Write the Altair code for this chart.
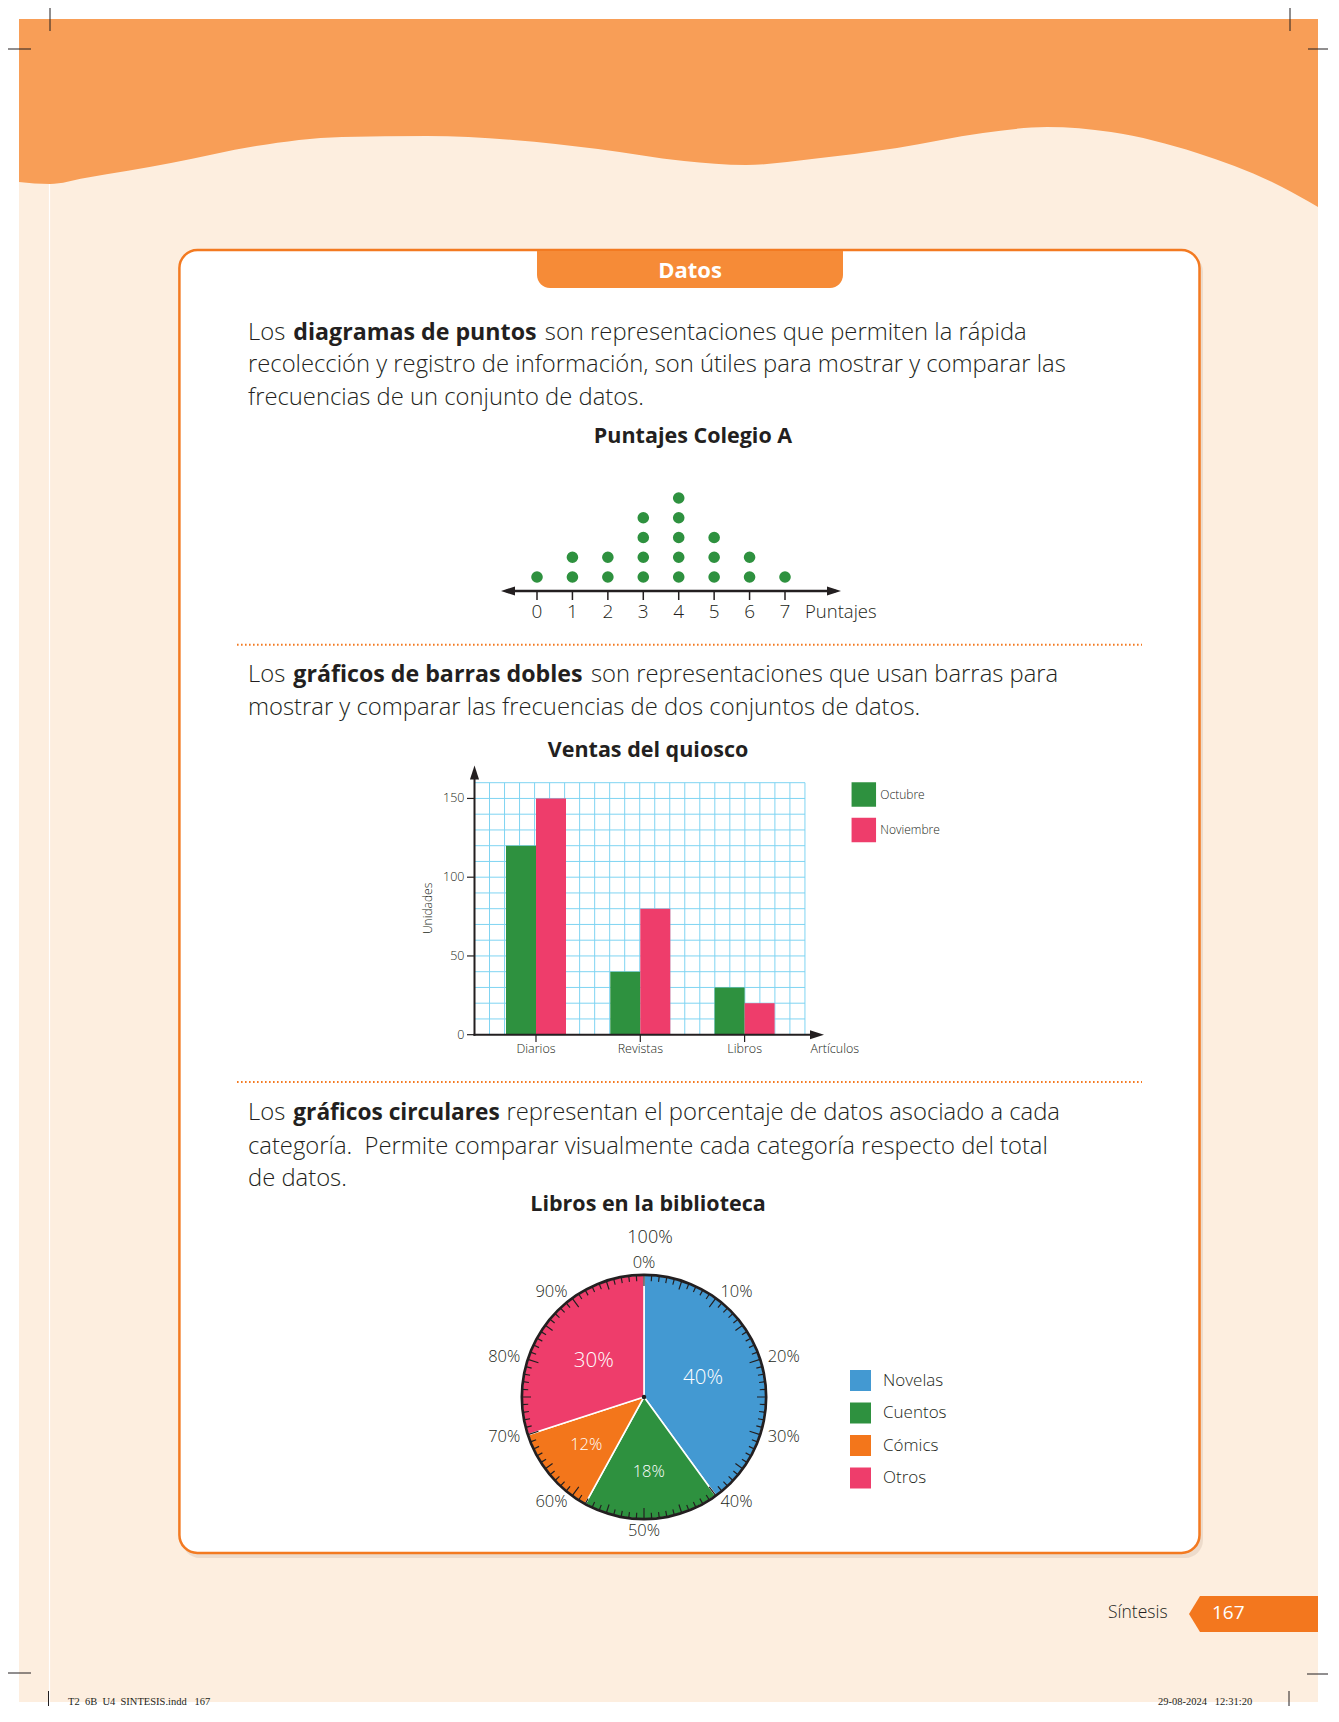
import math
import altair as alt
import pandas as pd

# ---------------- data ----------------
puntajes = [0, 1, 2, 3, 4, 5, 6, 7]
frecuencias = [1, 2, 2, 4, 5, 3, 2, 1]

articulos = ["Diarios", "Revistas", "Libros"]
meses = ["Octubre", "Noviembre"]
ventas_octubre = [120, 40, 30]
ventas_noviembre = [150, 80, 20]
marcas_unidades = [0, 50, 100, 150]
lineas_unidades = [10, 20, 30, 40, 50, 60, 70, 80, 90, 100, 110, 120, 130, 140, 150, 160]

categorias = ["Novelas", "Cuentos", "Cómics", "Otros"]
porcentajes = [40, 18, 12, 30]
marcas_circulo = [0, 10, 20, 30, 40, 50, 60, 70, 80, 90]
divisiones_circulo = list(range(100))

# ---------------- style ----------------
OFF = 8
W, H = 1320, 1698


def c(v):
    return v - OFF


FONT = "Open Sans"
LIGHT = 300
INK = "#231F20"
GREEN = "#2E913F"
PINK = "#EE3D6B"
BLUE = "#4399D2"
ORANGE_C = "#F3761B"
ORANGE_LINE = "#F37A21"
ORANGE_TAB = "#F68B37"
ORANGE_WAVE = "#F89E57"
CREAM = "#FDEEDF"
GRID = "#7FD4F2"

DUMMY = pd.DataFrame({"k": [0]})
PX = alt.Scale(domain=[0, 1400], range=[c(0), c(1400)], nice=False, zero=False)
PY = alt.Scale(domain=[0, 1800], range=[c(0), c(1800)], nice=False, zero=False)


def vrule(x, y1, y2, color=INK, width=1.0, **kw):
    return alt.Chart(DUMMY).mark_rule(color=color, strokeWidth=width, **kw).encode(
        x=alt.value(c(x)), y=alt.value(c(y1)), y2=alt.value(c(y2)))


def hrule(y, x1, x2, color=INK, width=1.0, **kw):
    return alt.Chart(DUMMY).mark_rule(color=color, strokeWidth=width, **kw).encode(
        x=alt.value(c(x1)), x2=alt.value(c(x2)), y=alt.value(c(y)))


def box(x1, y1, x2, y2, **kw):
    return alt.Chart(DUMMY).mark_rect(**kw).encode(
        x=alt.value(c(x1)), x2=alt.value(c(x2)), y=alt.value(c(y1)), y2=alt.value(c(y2)))


def label(text, x, y, size, weight=LIGHT, color=INK, align="left",
          baseline="alphabetic", font=FONT, angle=0):
    return alt.Chart(DUMMY).mark_text(
        text=text, font=font, fontSize=size, fontWeight=weight, color=color,
        align=align, baseline=baseline, angle=angle).encode(
        x=alt.value(c(x)), y=alt.value(c(y)))


LEFT = "M-1,0L1,-0.65L1,0.65Z"
RIGHT = "M1,0L-1,-0.65L-1,0.65Z"
UP = "M0,-1L-0.65,1L0.65,1Z"


def arrow(x, y, path):
    return alt.Chart(DUMMY).mark_point(shape=path, filled=True, size=196, color=INK,
                                       opacity=1, strokeWidth=0).encode(
        x=alt.value(c(x)), y=alt.value(c(y)))


# ---------------- page decoration ----------------
wave_df = pd.DataFrame({
    "wx": [19, 50, 85, 171, 256, 342, 427, 513, 598, 684, 746, 812, 897, 983, 1047, 1111, 1197, 1282, 1318],
    "wy": [182, 184, 178, 163, 146, 137, 136, 140, 149, 161, 165, 159, 148, 133, 127, 132, 153, 187, 207],
})
wave_df["top"] = 19
wave = alt.Chart(wave_df).mark_area(color=ORANGE_WAVE, interpolate="monotone", opacity=1).encode(
    x=alt.X("wx:Q", scale=PX, axis=None),
    y=alt.Y("wy:Q", scale=PY, axis=None),
    y2="top:Q")

grid_df = pd.DataFrame({"gx": [474.5 + 15.02 * k for k in range(23)]})
grid_v = alt.Chart(grid_df).mark_rule(color=GRID, strokeWidth=1).encode(
    x=alt.X("gx:Q", scale=PX, axis=None), y=alt.value(c(782.7)), y2=alt.value(c(1034.7)))

tab_df = pd.DataFrame({"tx": [1189, 1200, 1318], "t1": [1614, 1596, 1596], "t2": [1614, 1632, 1632]})
page_tab = alt.Chart(tab_df).mark_area(color="#F3771E", opacity=1).encode(
    x=alt.X("tx:Q", scale=PX, axis=None), y=alt.Y("t1:Q", scale=PY, axis=None), y2="t2:Q")

g0 = alt.layer(
    box(19, 19, 1318, 1702, color=CREAM),
    wave,
    vrule(49.5, 184, 1702, color="white", width=1.2),
    vrule(50, 8, 31), hrule(49, 8, 31),
    vrule(1290, 8, 31), hrule(49, 1308, 1330),
    hrule(1673, 8, 31), vrule(48.5, 1691, 1706),
    hrule(1674, 1307, 1330), vrule(1289, 1691, 1706),
    box(182, 254, 1203, 1558, color="#E6D3C2", cornerRadius=18, opacity=0.7),
    box(179.4, 250, 1199.5, 1553, fill="white", stroke=ORANGE_LINE, strokeWidth=2.5, cornerRadius=18),
    box(537, 251, 843, 288, color=ORANGE_TAB, cornerRadiusBottomLeft=13, cornerRadiusBottomRight=13),
    hrule(644.8, 237, 1142, color=ORANGE_LINE, width=2, strokeDash=[1.6, 2.4]),
    hrule(1082, 237, 1142, color=ORANGE_LINE, width=2, strokeDash=[1.6, 2.4]),
    grid_v,
    page_tab,
)

# ---------------- dot plot ----------------
dot_df = pd.DataFrame([{"puntaje": p, "nivel": k}
                       for p, f in zip(puntajes, frecuencias) for k in range(1, f + 1)])
xs_dot = alt.Scale(domain=[0, 7], range=[c(537), c(785)], nice=False, zero=False)
ys_dot = alt.Scale(domain=[1, 5], range=[c(577), c(498)], nice=False, zero=False)
punt_df = pd.DataFrame({"puntaje": puntajes})

g1 = alt.layer(
    alt.Chart(dot_df).mark_circle(size=135, color=GREEN, opacity=1).encode(
        x=alt.X("puntaje:Q", scale=xs_dot, axis=None),
        y=alt.Y("nivel:Q", scale=ys_dot, axis=None)),
    alt.Chart(punt_df).mark_rule(color=INK, strokeWidth=1.5).encode(
        x=alt.X("puntaje:Q", scale=xs_dot, axis=None),
        y=alt.value(c(591)), y2=alt.value(c(600))),
    alt.Chart(punt_df).mark_text(font=FONT, fontWeight=LIGHT, fontSize=19, color=INK,
                                 baseline="middle").encode(
        x=alt.X("puntaje:Q", scale=xs_dot, axis=None),
        y=alt.value(c(612)), text="puntaje:Q"),
)

# ---------------- double bar chart ----------------
bar_df = pd.DataFrame({
    "articulo": articulos * 2,
    "mes": [meses[0]] * 3 + [meses[1]] * 3,
    "unidades": ventas_octubre + ventas_noviembre,
})
xs_bar = alt.Scale(domain=articulos, range=[c(483.85), c(796.75)],
                   paddingInner=0.4247, paddingOuter=0.2123)
ys_bar = alt.Scale(domain=[0, 160], range=[c(1034.7), c(782.7)], nice=False)
art_df = pd.DataFrame({"articulo": articulos})

g2 = alt.layer(
    alt.Chart(pd.DataFrame({"v": lineas_unidades})).mark_rule(color=GRID, strokeWidth=1).encode(
        y=alt.Y("v:Q", scale=ys_bar, axis=None), x=alt.value(c(474.5)), x2=alt.value(c(805))),
    alt.Chart(bar_df).mark_bar(opacity=1).encode(
        x=alt.X("articulo:N", scale=xs_bar, axis=None),
        xOffset=alt.XOffset("mes:N", scale=alt.Scale(domain=meses)),
        y=alt.Y("unidades:Q", scale=ys_bar, axis=None),
        color=alt.Color("mes:N", scale=alt.Scale(domain=meses, range=[GREEN, PINK]),
                        legend=alt.Legend(orient="none", legendX=c(851.3), legendY=c(782),
                                          title=None, symbolType="square", symbolSize=600,
                                          symbolStrokeWidth=0, symbolOpacity=1,
                                          labelFont=FONT, labelFontSize=12, labelColor=INK,
                                          labelFontWeight=LIGHT,
                                          labelOffset=4, rowPadding=10.5, padding=0))),
    alt.Chart(pd.DataFrame({"v": marcas_unidades})).mark_rule(color=INK, strokeWidth=1.2).encode(
        y=alt.Y("v:Q", scale=ys_bar, axis=None), x=alt.value(c(467)), x2=alt.value(c(474.5))),
    alt.Chart(pd.DataFrame({"v": marcas_unidades})).mark_text(
        font=FONT, fontWeight=LIGHT, fontSize=12.5, color=INK, align="right", baseline="middle").encode(
        y=alt.Y("v:Q", scale=ys_bar, axis=None), x=alt.value(c(464.5)), text="v:Q"),
    alt.Chart(art_df).mark_rule(color=INK, strokeWidth=1.2).encode(
        x=alt.X("articulo:N", scale=xs_bar, axis=None),
        y=alt.value(c(1034.7)), y2=alt.value(c(1042))),
    alt.Chart(art_df).mark_text(font=FONT, fontWeight=LIGHT, fontSize=12.5, color=INK,
                                baseline="middle").encode(
        x=alt.X("articulo:N", scale=xs_bar, axis=None),
        y=alt.value(c(1049)), text="articulo:N"),
)

# ---------------- pie chart ----------------
CX, CY, R = 644, 1397, 122
pie_df = pd.DataFrame({"categoria": categorias, "porcentaje": porcentajes,
                       "orden": list(range(len(categorias)))})
theta_scale = alt.Scale(domain=[0, 100], range=[0, 2 * math.pi])
center = dict(x=alt.value(c(CX)), y=alt.value(c(CY)))

slices = alt.Chart(pie_df).mark_arc(radius=R, stroke="white", strokeWidth=1.6).encode(
    theta=alt.Theta("porcentaje:Q", stack=True, scale=theta_scale),
    order=alt.Order("orden:Q"),
    color=alt.Color("categoria:N",
                    scale=alt.Scale(domain=categorias, range=[BLUE, GREEN, ORANGE_C, PINK]),
                    legend=alt.Legend(orient="none", legendX=c(850), legendY=c(1370),
                                      title=None, symbolType="square", symbolSize=441,
                                      symbolStrokeWidth=0, symbolOpacity=1,
                                      labelFont=FONT, labelFontSize=17, labelColor=INK,
                                      labelFontWeight=LIGHT,
                                      labelOffset=12, rowPadding=11.5, padding=0)),
    **center)

ticks_base = alt.Chart(pd.DataFrame({"p": divisiones_circulo})).transform_calculate(
    p0="datum.p - 0.08", p1="datum.p + 0.08")


def tick_layer(cond, inner):
    return ticks_base.transform_filter(cond).mark_arc(radius=R, radius2=inner, color=INK).encode(
        theta=alt.Theta("p0:Q", scale=theta_scale, stack=False), theta2="p1:Q", **center)


ring = alt.Chart(DUMMY).mark_arc(theta=0, theta2=2 * math.pi, radius=R + 1.5, radius2=R - 1.2,
                                 color=INK).encode(**center)

inner_base = alt.Chart(pie_df).transform_window(
    cum="sum(porcentaje)", sort=[alt.SortField("orden")]).transform_calculate(
    mid="datum.cum - datum.porcentaje / 2", txt="datum.porcentaje + '%'")


def inner_labels(cond, radius, size):
    return inner_base.transform_filter(cond).mark_text(
        radius=radius, font=FONT, fontWeight=LIGHT, fontSize=size, color="white",
        baseline="middle").encode(
        theta=alt.Theta("mid:Q", scale=theta_scale, stack=False), text="txt:N", **center)


ring_base = alt.Chart(pd.DataFrame({"p": marcas_circulo})).transform_calculate(
    txt="datum.p + '%'")


def ring_labels(cond, radius, align):
    return ring_base.transform_filter(cond).mark_text(
        radius=radius, font=FONT, fontWeight=LIGHT, fontSize=16.5, color=INK,
        align=align, baseline="middle").encode(
        theta=alt.Theta("p:Q", scale=theta_scale, stack=False), text="txt:N", **center)


g3 = alt.layer(
    slices,
    tick_layer("datum.p % 5 != 0", R - 6),
    tick_layer("datum.p % 5 == 0 && datum.p % 10 != 0", R - 9),
    tick_layer("datum.p % 10 == 0", R - 11),
    ring,
    alt.Chart(DUMMY).mark_circle(size=20, color=INK, opacity=1).encode(**center),
    inner_labels("datum.porcentaje >= 30", 62, 20.5),
    inner_labels("datum.porcentaje < 30", 75, 16.5),
    ring_labels("datum.p % 50 == 0", 134, "center"),
    ring_labels("datum.p > 0 && datum.p < 50", 130, "left"),
    ring_labels("datum.p > 50", 130, "right"),
)

# ---------------- foreground axes ----------------
g4 = alt.layer(
    hrule(591, 506, 836, width=2.5),
    arrow(508, 591, LEFT), arrow(834, 591, RIGHT),
    vrule(474.5, 1035.7, 772, width=2),
    hrule(1034.7, 473.5, 818, width=2),
    arrow(474.5, 772.6, UP), arrow(817, 1034.7, RIGHT),
)

# ---------------- texts ----------------
P = 23.8
B = 23.2
g5 = alt.layer(
    label("Datos", 690, 277.5, 22, "bold", "white", align="center"),
    label("Los", 248, 340, P),
    label("diagramas de puntos", 293.3, 340, B, "bold"),
    label("son representaciones que permiten la rápida", 544.8, 340, P),
    label("recolección y registro de información, son útiles para mostrar y comparar las", 248, 372, P),
    label("frecuencias de un conjunto de datos.", 248, 405, P),
    label("Puntajes Colegio A", 693, 443, 21.5, "bold", align="center"),
    label("Puntajes", 805, 612, 18.5, baseline="middle"),
    label("Los", 248, 681.5, P),
    label("gráficos de barras dobles", 293.3, 681.5, B, "bold"),
    label("son representaciones que usan barras para", 591, 681.5, P),
    label("mostrar y comparar las frecuencias de dos conjuntos de datos.", 248, 714.5, P),
    label("Ventas del quiosco", 648, 757, 21.5, "bold", align="center"),
    label("Artículos", 834.8, 1049, 12.5, align="center", baseline="middle"),
    label("Unidades", 428.4, 908.4, 12, align="center", baseline="middle", angle=270),
    label("Los", 248, 1120, P),
    label("gráficos circulares", 293.3, 1120, 22.7, "bold"),
    label("representan el porcentaje de datos asociado a cada", 506.4, 1120, P),
    label("categoría.\u00a0 Permite comparar visualmente cada categoría respecto del total", 248, 1153.5, P),
    label("de datos.", 248, 1186, P),
    label("Libros en la biblioteca", 648, 1211, 21.5, "bold", align="center"),
    label("100%", 650, 1238, 18, align="center", baseline="middle"),
    label("Síntesis", 1108, 1613, 17.5, baseline="middle"),
    label("167", 1212, 1613, 19, "normal", color="white", baseline="middle"),
    label("T2_6B_U4_SINTESIS.indd\u00a0\u00a0 167", 68, 1702, 10.5, "normal",
          font="Liberation Serif", baseline="middle"),
    label("29-08-2024\u00a0\u00a0 12:31:20", 1158, 1702, 10.5, "normal",
          font="Liberation Serif", baseline="middle"),
)

chart = alt.layer(g0, g2, g1, g3, g4, g5).resolve_scale(
    x="independent", y="independent", color="independent"
).resolve_legend(color="independent").properties(
    width=W, height=H, autosize=alt.AutoSizeParams(type="none"), padding=0
).configure(background="white").configure_view(strokeWidth=0, stroke="transparent")

chart.save("out.html", embed_options={"renderer": "svg", "actions": False})
